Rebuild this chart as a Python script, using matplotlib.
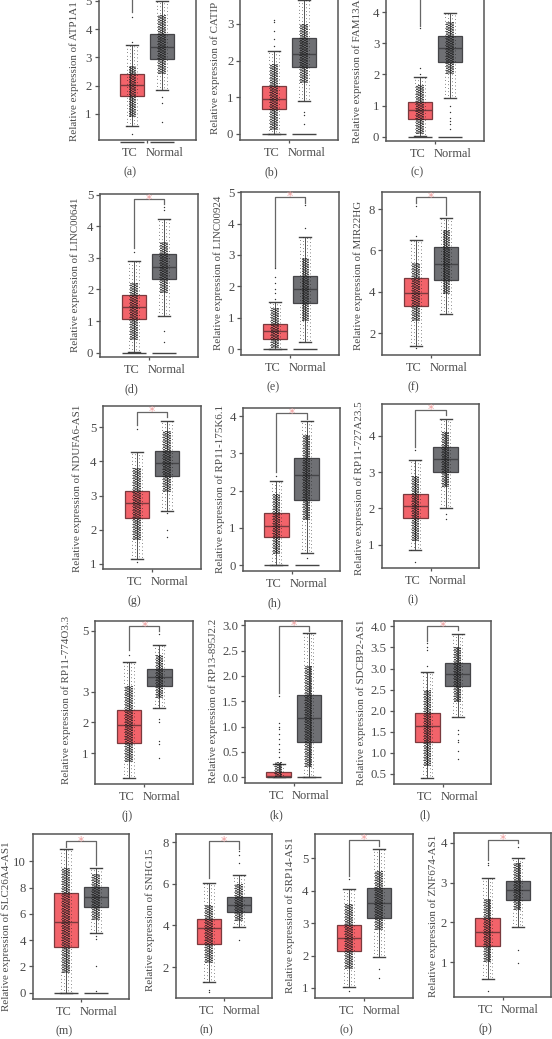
"""
Grid of 16 TC vs Normal expression boxplots.
Box statistics, outliers and dense ranges of the dots are read off the picture.
The dense dot clouds are not readable point by point, so they are drawn as
speckled bands over the read ranges instead of individual samples.
"""
import matplotlib
matplotlib.use("Agg")
import matplotlib.pyplot as plt

plt.rcParams["font.family"] = ["Liberation Serif", "DejaVu Serif"]

W, H = 552, 1039
INK = "#4a4a4a"

LETTERS = list("abcdefghijklmnop")
GENES = ["ATP1A1", "CATIP", "FAM13A", "LINC00641", "LINC00924", "MIR22HG",
         "NDUFA6-AS1", "RP11-175K6.1", "RP11-727A23.5", "RP11-774O3.3",
         "RP13-895J2.2", "SDCBP2-AS1", "SLC26A4-AS1", "SNHG15", "SRP14-AS1",
         "ZNF674-AS1"]

YTICKS = [["1", "2", "3", "4", "5"], ["0", "1", "2", "3"], ["0", "1", "2", "3", "4"],
          ["0", "1", "2", "3", "4", "5"], ["0", "1", "2", "3", "4", "5"], ["2", "4", "6", "8"],
          ["1", "2", "3", "4", "5"], ["0", "1", "2", "3", "4"], ["1", "2", "3", "4"],
          ["1", "2", "3", "5"], ["0.0", "0.5", "1.0", "1.5", "2.0", "2.5", "3.0"],
          ["0.5", "1.0", "1.5", "2.0", "2.5", "3.0", "3.5", "4.0"],
          ["0", "2", "4", "6", "8", "10"], ["2", "4", "6", "8"], ["1", "2", "3", "4", "5"],
          ["1", "2", "3", "4"]]

# whisker low, q1, median, q3, whisker high
TC_STATS = [(0.59, 1.64, 2.03, 2.41, 3.43), (0.0, 0.67, 0.96, 1.31, 2.26), (0.03, 0.57, 0.85, 1.13, 1.93),
            (0.02, 1.06, 1.45, 1.84, 2.91), (0.0, 0.31, 0.575, 0.80, 1.49), (1.40, 3.33, 3.95, 4.68, 6.5),
            (1.155, 2.34, 2.79, 3.15, 4.27), (0.0, 0.76, 1.04, 1.39, 2.25), (0.845, 1.74, 2.07, 2.41, 3.33),
            (0.19, 1.34, 1.91, 2.41, 3.96), (0.0, 0.0, 0.02, 0.11, 0.27), (0.41, 1.27, 1.64, 1.95, 2.92),
            (0.0, 3.45, 5.39, 7.55, 10.93), (1.28, 3.09, 3.86, 4.32, 6.04), (1.02, 2.15, 2.53, 2.94, 4.06),
            (0.58, 1.41, 1.77, 2.11, 3.12)]
NORMAL_STATS = [(1.85, 2.93, 3.36, 3.81, 4.98), (0.91, 1.83, 2.19, 2.61, 3.65), (1.26, 2.40, 2.85, 3.24, 3.97),
                (1.17, 2.32, 2.70, 3.11, 4.24), (0.21, 1.48, 1.91, 2.33, 3.57), (2.95, 4.56, 5.34, 6.18, 7.55),
                (2.56, 3.58, 3.96, 4.32, 5.18), (0.33, 1.755, 2.41, 2.88, 3.88), (2.0, 3.0, 3.36, 3.69, 4.48),
                (2.47, 3.2, 3.47, 3.74, 4.53), (0.0, 0.70, 1.18, 1.62, 2.84), (1.85, 2.58, 2.87, 3.13, 3.81),
                (4.51, 6.53, 7.32, 8.03, 9.52), (3.94, 4.65, 4.97, 5.38, 6.43), (1.95, 3.17, 3.61, 4.08, 5.29),
                (1.89, 2.57, 2.81, 3.05, 3.62)]

TC_OUTLIERS = [[0.3, 3.55, 4.42], [2.4, 2.6, 2.8, 3.05, 3.1], [2.0, 2.2, 3.48], [3.2],
               [1.6, 1.8, 1.9, 2.1, 2.3, 2.6], [1.3, 6.7, 8.15], [1.05, 4.96], [2.4],
               [0.52, 3.6], [4.2], [0.4, 0.5, 0.55, 0.65, 0.75, 0.85, 0.95, 1.0, 1.07, 1.6],
               [3.05, 3.45, 3.5, 3.6], [], [0.8, 0.9], [0.9, 4.35], [0.27, 3.45, 3.5]]
NORMAL_OUTLIERS = [[0.72, 1.38, 1.61], [0.28, 0.52, 0.6], [0.25, 0.4, 0.5, 0.6, 0.8, 1.0], [0.35, 0.68, 4.5, 4.6],
                   [3.85, 4.6], [], [1.8, 2.0, 2.5], [0.2], [1.7, 1.85], [0.85, 1.3, 1.4, 2.0, 2.1, 4.9],
                   [], [0.85, 1.05, 1.25, 1.3, 1.45, 1.55], [0.1, 2.0, 4.1, 4.3], [3.3, 7.0, 7.4, 7.6],
                   [1.3, 1.6], [0.97, 1.3, 3.9]]

# y range where the dots pile up
TC_DENSE = [(0.9, 2.7), (0.1, 1.9), (0.1, 1.65), (0.4, 2.2), (0.03, 1.3), (2.6, 5.4), (1.7, 3.8), (0.3, 1.9),
            (1.1, 2.9), (0.7, 3.2), (0.0, 0.3), (0.7, 2.5), (1.5, 9.5), (2.2, 5.0), (1.6, 3.6), (1.0, 2.6)]
NORMAL_DENSE = [(2.4, 4.5), (1.4, 3.0), (2.0, 3.7), (1.9, 3.5), (0.9, 2.9), (3.9, 7.0), (3.1, 4.9), (1.2, 3.5),
                (2.6, 4.1), (2.8, 4.2), (0.2, 2.2), (2.2, 3.5), (5.5, 9.0), (4.2, 6.0), (2.8, 4.6), (2.3, 3.5)]

# panels with a cap at zero below both boxes
ZERO_CAP = [True, True, True, True, True, False, False, True, False, False, True, False, True, False, False, False]

# bracket: left foot, top, right foot
BRACKET = [(4.6, 6.2, 6.0), (3.75, 5.0, 4.8), (3.57, 5.5, 5.3), (3.30, 4.85, 4.72), (2.63, 4.86, 4.65),
           (8.3, 8.56, 7.7), (5.07, 5.46, 5.31), (2.51, 4.08, 3.93), (3.71, 4.72, 4.58), (4.37, 5.14, 5.0),
           (1.66, 2.99, 2.88), (3.65, 4.0, 3.91), (11.08, 11.52, 9.7), (6.27, 8.06, 7.7), (4.44, 5.57, 5.38),
           (3.57, 4.08, 3.99)]

# layout in picture pixels: left, right, top, bottom of the axes
BOXES = [(98.7, 195.7, -23, 140), (240.3, 337.7, -23, 140), (386.3, 483.7, -22.3, 140.7),
         (100.3, 197.7, 194, 357.3), (241.3, 339, 191.7, 355), (382.3, 480, 191.7, 355),
         (103.3, 200.7, 405.7, 569), (242.7, 340.3, 407.7, 571), (381.7, 479.3, 404.3, 568),
         (95.3, 193.3, 620.7, 783.7), (245, 342.3, 620.7, 783.3), (393.7, 491.3, 620.7, 783.7),
         (32.7, 129.3, 834.3, 999), (175.7, 272.3, 834.3, 998.3), (315.3, 412.7, 834, 998),
         (454, 551.3, 833.3, 997)]
# two tick calibrations per panel: value, pixel, value, pixel
CALIB = [(1, 114, 5, 0.7), (0, 134, 3, 24), (0, 136.7, 4, 12.3), (0, 352.7, 5, 194.7), (0, 349, 5, 192.3),
         (2, 333.3, 8, 209), (1, 564, 5, 427.3), (0, 565, 4, 416.3), (1, 544.7, 4, 436), (1, 753, 5, 630.7),
         (0, 777.3, 3, 625.3), (0.5, 774, 4, 626.3), (0, 992.7, 10, 861.3), (2, 967, 8, 842.3),
         (1, 988, 5, 858.3), (1, 962.3, 4, 842.7)]
LABEL_GAP = [25, 25.3, 28.7, 25, 23.6, 24, 26, 22.7, 23, 29.6, 32, 33, 26.7, 25.7, 25, 21]
LABEL_Y = [71, 68, 71, 275, 273, 275, 488, 489, 487.7, 700, 701, 702, 926, 920, 915, 916]


def speckle(ax, x, lo, hi, offsets, lw, dash):
    # parallel dashed columns, shifted phases give the dotted strip look
    for i, dx in enumerate(offsets):
        ax.vlines(x + dx, lo, hi, color="#1c1c1c", lw=lw, zorder=4,
                  linestyles=[((i * 0.7) % (dash[0] + dash[1]), dash)])


def draw_panel(fig, i):
    l, r, t, b = BOXES[i]
    ax = fig.add_axes([l / W, 1 - b / H, (r - l) / W, (b - t) / H])
    v0, p0, v1, p1 = CALIB[i]
    per_px = (v1 - v0) / (p0 - p1)
    ax.set_ylim(v0 - (b - p0) * per_px, v0 + (p0 - t) * per_px)
    ax.set_xlim(-0.12, 3.12)

    for pos, stats, fliers, colour, edge in [
            (1, TC_STATS[i], TC_OUTLIERS[i], "#f2636a", "#7a3a3e"),
            (2, NORMAL_STATS[i], NORMAL_OUTLIERS[i], "#6f7074", "#454548")]:
        lo, q1, med, q3, hi = stats
        ax.bxp([dict(whislo=lo, q1=q1, med=med, q3=q3, whishi=hi, fliers=fliers)],
               positions=[pos], widths=0.81, capwidths=0.4, patch_artist=True, manage_ticks=False,
               boxprops=dict(facecolor=colour, edgecolor=edge, linewidth=0.9),
               medianprops=dict(color=edge, linewidth=1.0),
               whiskerprops=dict(color="#555555", linewidth=0.7),
               capprops=dict(color="#444444", linewidth=1.0),
               flierprops=dict(marker="o", markersize=1.0, markerfacecolor="#333333",
                               markeredgecolor="none"))
        dense_lo, dense_hi = (TC_DENSE if pos == 1 else NORMAL_DENSE)[i]
        speckle(ax, pos, lo, hi, [-0.16, -0.06, 0.07, 0.16], 0.6, (0.7, 3.5))
        speckle(ax, pos, dense_lo, dense_hi, [-0.09, -0.03, 0.03, 0.09], 1.1, (1.0, 0.6))
        if ZERO_CAP[i]:
            ax.hlines(0, pos - 0.4, pos + 0.4, color="#444444", lw=1.0, clip_on=False, zorder=3)

    foot_l, top, foot_r = BRACKET[i]
    ax.plot([1, 1, 2, 2], [foot_l, top, top, foot_r], color="#666666", lw=0.9, zorder=5)
    if t > 0:  # the first row is cut at the image edge, its star is out of frame
        ax.text(1.5, top, "*", color="#f0a0a0", fontsize=9, ha="center", va="center", zorder=6,
                family="DejaVu Sans")

    ax.set_yticks([float(s) for s in YTICKS[i]], YTICKS[i])
    ax.set_xticks([0.92, 2.08], ["TC", "Normal"])
    ax.set_xticks([1.5], minor=True)
    ax.tick_params(axis="x", which="major", length=0, pad=5.0, labelsize=8.9, colors=INK)
    ax.tick_params(axis="x", which="minor", length=2.5, width=0.9, color="#555555")
    ax.tick_params(axis="y", length=3, width=0.9, pad=2, labelsize=9.2, color="#555555", labelcolor=INK)
    for s in ax.spines.values():
        s.set_color("#555555")
        s.set_linewidth(1.1)

    fig.text((l - LABEL_GAP[i]) / W, 1 - LABEL_Y[i] / H, f"Relative expression of {GENES[i]}",
             rotation=90, ha="center", va="center", fontsize=7.9, color=INK)
    ax.annotate(f"({LETTERS[i]})", xy=(0.92, 0), xycoords=ax.get_xaxis_transform(), xytext=(0, -23),
                textcoords="offset points", ha="center", va="center", fontsize=8.6, color=INK)


fig = plt.figure(figsize=(W / 100, H / 100), dpi=100)
for idx in range(len(GENES)):
    draw_panel(fig, idx)
fig.savefig("out.png", dpi=100)
